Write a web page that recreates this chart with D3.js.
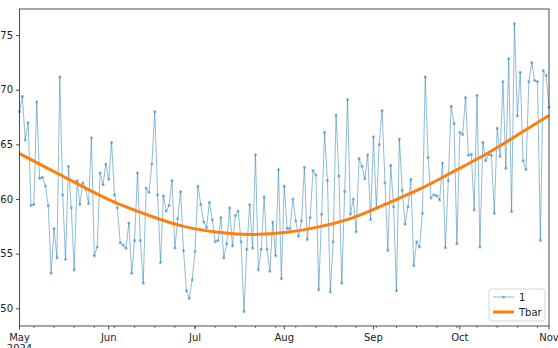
<!DOCTYPE html>
<html>
<head>
<meta charset="utf-8">
<script src="https://cdn.jsdelivr.net/npm/d3@7/dist/d3.min.js"></script>
<style>
  html, body { margin: 0; padding: 0; background: #fff; }
  svg { display: block; font-family: "DejaVu Sans", sans-serif; }
</style>
</head>
<body>
<svg id="chart" width="558" height="348"></svg>
<script>
// Daily readings, 1 May 2024 through 1 Nov 2024
const startDate = "2024-05-01";
const endDate = "2024-11-01";
const series1 = [
  68.0, 69.4, 65.4, 67.0, 59.4, 59.5, 68.9, 61.9, 62.0, 61.2,
  59.4, 53.2, 57.3, 54.6, 71.2, 60.4, 54.5, 63.0, 59.2, 53.5,
  61.7, 59.5, 61.5, 60.9, 59.6, 65.6, 54.8, 55.6, 62.4, 61.3,
  63.2, 61.8, 65.2, 60.4, 59.2, 56.0, 55.8, 55.5, 57.8, 53.2,
  56.2, 62.4, 56.2, 52.3, 61.0, 60.6, 63.2, 68.0, 60.4, 54.2,
  60.3, 58.9, 59.4, 61.7, 55.5, 58.2, 60.7, 55.3, 51.6, 50.9,
  52.6, 55.2, 61.2, 59.5, 57.9, 57.4, 59.7, 58.1, 56.1, 56.2,
  58.3, 54.6, 55.9, 59.2, 55.7, 58.5, 58.9, 56.1, 49.7, 55.4,
  59.5, 55.5, 64.05, 53.5, 55.4, 60.2, 55.4, 53.4, 57.9, 54.8,
  62.7, 52.7, 61.2, 57.3, 57.3, 60.0, 58.0, 56.6, 58.0, 62.9,
  56.3, 58.3, 62.6, 62.2, 51.7, 58.6, 66.1, 61.7, 51.5, 56.1,
  67.7, 62.1, 52.3, 60.7, 69.1, 58.6, 60.0, 57.0, 63.7, 63.0,
  61.85, 64.05, 58.1, 65.7, 59.2, 65.0, 68.1, 61.5, 55.3, 63.1,
  59.3, 51.6, 65.5, 60.8, 57.7, 59.3, 61.8, 53.9, 56.1, 55.6,
  58.7, 71.2, 63.8, 60.1, 60.4, 60.3, 59.9, 63.3, 55.55, 61.7,
  68.5, 66.9, 55.9, 66.1, 65.9, 69.3, 64.0, 64.1, 59.0, 69.5,
  55.6, 65.2, 63.5, 64.1, 64.0, 58.7, 66.5, 63.9, 70.75, 62.8,
  72.85, 58.85, 76.07, 67.6, 71.6, 63.5, 62.7, 70.75, 72.5, 70.85,
  70.75, 56.2, 71.75, 71.3, 68.4
];
// Smooth Tbar curve: day offsets from startDate and their levels
const tbarDays = [0, 23, 34, 46, 57, 69, 81, 93, 104, 116, 127, 139, 150, 162, 173, 184];
const tbarValues = [64.15, 61.0, 59.6, 58.4, 57.5, 56.95, 56.75, 56.95, 57.45, 58.3, 59.5, 60.9, 62.4, 64.1, 65.85, 67.65];
const yTicks = [50, 55, 60, 65, 70, 75];
const legendLabels = ["1", "Tbar"];

const W = 558, H = 348;
const margin = { left: 19.5, right: 9, top: 9, bottom: 22 };
const svg = d3.select("#chart");

const t0 = new Date(startDate + "T00:00:00Z");
const t1 = new Date(endDate + "T00:00:00Z");
const days = d3.utcDay.range(t0, d3.utcDay.offset(t1, 1));
const pts = days.map((d, i) => ({ date: d, v: series1[i] }));
const tbar = tbarDays.map((k, i) => ({ date: d3.utcDay.offset(t0, k), v: tbarValues[i] }));

const x = d3.scaleUtc().domain([t0, t1]).range([margin.left, W - margin.right]);
const lo = d3.min(series1), hi = d3.max(series1), pad = (hi - lo) * 0.05;
const y = d3.scaleLinear().domain([lo - pad, hi + pad]).range([H - margin.bottom, margin.top]);

const ink = "#222";
const blue = "#1f77b4", orange = "#ff7f0e";

// series "1": thin translucent line with small markers
svg.append("path")
  .datum(pts)
  .attr("fill", "none")
  .attr("stroke", blue)
  .attr("stroke-opacity", 0.5)
  .attr("stroke-width", 1)
  .attr("d", d3.line().x(d => x(d.date)).y(d => y(d.v)));

svg.append("g").selectAll("circle")
  .data(pts)
  .join("circle")
  .attr("cx", d => x(d.date))
  .attr("cy", d => y(d.v))
  .attr("r", 1.5)
  .attr("fill", blue)
  .attr("fill-opacity", 0.5);

// Tbar trend
svg.append("path")
  .datum(tbar)
  .attr("fill", "none")
  .attr("stroke", orange)
  .attr("stroke-width", 3)
  .attr("d", d3.line().curve(d3.curveNatural).x(d => x(d.date)).y(d => y(d.v)));

// frame
svg.append("rect")
  .attr("x", margin.left).attr("y", margin.top)
  .attr("width", W - margin.right - margin.left)
  .attr("height", H - margin.bottom - margin.top)
  .attr("fill", "none").attr("stroke", ink).attr("stroke-width", 0.8);

// y axis
const yAxis = d3.axisLeft(y).tickValues(yTicks).tickSize(3.5).tickPadding(3).tickFormat(d3.format("d"));
const gy = svg.append("g").attr("transform", `translate(${margin.left},0)`).call(yAxis);
gy.select(".domain").remove();
gy.selectAll("line").attr("stroke", ink).attr("stroke-width", 0.8);
gy.selectAll("text").attr("fill", ink).style("font-size", "10px").style("font-family", "DejaVu Sans");

// x axis: monthly labels and weekly (Monday) minor ticks
const xb = H - margin.bottom;
const months = d3.utcMonth.range(t0, d3.utcDay.offset(t1, 1));
const mondays = d3.utcMonday.range(t0, t1);
const gx = svg.append("g");
gx.selectAll("line.minor").data(mondays).join("line")
  .attr("class", "minor")
  .attr("x1", d => x(d)).attr("x2", d => x(d))
  .attr("y1", xb).attr("y2", xb + 2)
  .attr("stroke", ink).attr("stroke-width", 0.6);
gx.selectAll("line.major").data(months).join("line")
  .attr("class", "major")
  .attr("x1", d => x(d)).attr("x2", d => x(d))
  .attr("y1", xb).attr("y2", xb + 3.5)
  .attr("stroke", ink).attr("stroke-width", 0.8);
gx.selectAll("text.month").data(months).join("text")
  .attr("class", "month")
  .attr("x", d => x(d)).attr("y", xb + 14.5)
  .attr("text-anchor", "middle")
  .attr("fill", ink)
  .style("font-size", "10px")
  .text(d3.utcFormat("%b"));
gx.append("text")
  .attr("x", x(t0)).attr("y", xb + 26)
  .attr("text-anchor", "middle")
  .attr("fill", ink)
  .style("font-size", "10px")
  .text(d3.utcFormat("%Y")(t0));

// legend
const lg = svg.append("g").attr("transform", "translate(489,289)");
lg.append("rect")
  .attr("width", 56).attr("height", 32).attr("rx", 2.5)
  .attr("fill", "#fff").attr("fill-opacity", 0.8)
  .attr("stroke", "#ccc").attr("stroke-width", 0.8);
lg.append("line").attr("x1", 4).attr("x2", 25).attr("y1", 8).attr("y2", 8)
  .attr("stroke", blue).attr("stroke-opacity", 0.5).attr("stroke-width", 1);
lg.append("circle").attr("cx", 14.5).attr("cy", 8).attr("r", 1.5)
  .attr("fill", blue).attr("fill-opacity", 0.5);
lg.append("line").attr("x1", 4).attr("x2", 25).attr("y1", 23).attr("y2", 23)
  .attr("stroke", orange).attr("stroke-width", 3);
lg.selectAll("text").data(legendLabels).join("text")
  .attr("x", 30).attr("y", (d, i) => 11.5 + i * 15)
  .attr("fill", ink)
  .style("font-size", "10px")
  .text(d => d);
</script>
</body>
</html>
